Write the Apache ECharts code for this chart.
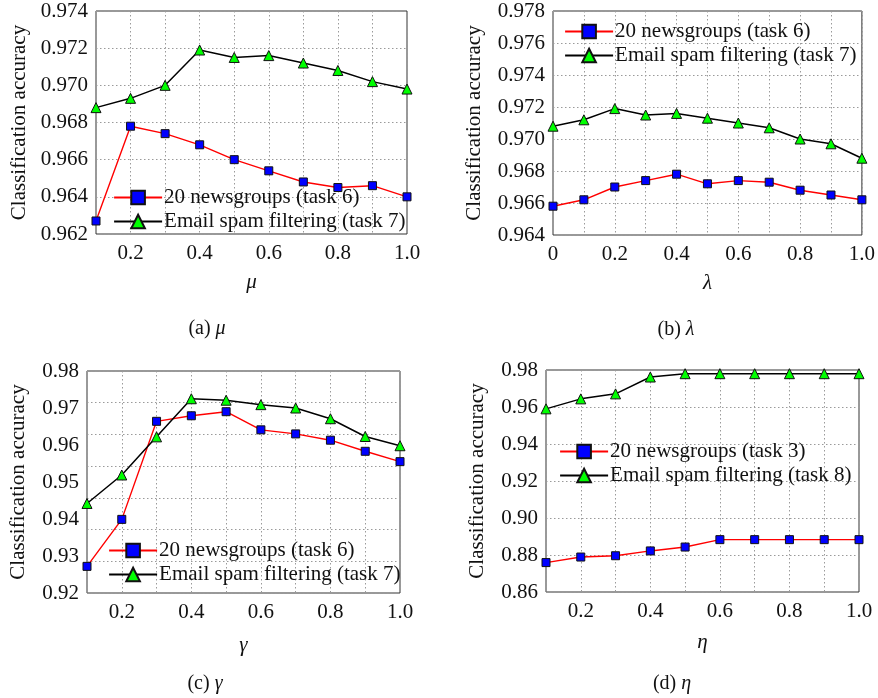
<!DOCTYPE html>
<html>
<head>
<meta charset="utf-8">
<script src="https://cdn.jsdelivr.net/npm/echarts@6/dist/echarts.min.js"></script>
<style>
html,body{margin:0;padding:0;background:#fff;}
#c{width:878px;height:698px;}
</style>
</head>
<body>
<div id="c"></div>
<script>
// ---------- data ----------
const seriesNames = ['20 newsgroups (task 6)', 'Email spam filtering (task 7)'];
const seriesNamesD = ['20 newsgroups (task 3)', 'Email spam filtering (task 8)'];
const yAxisTitle = 'Classification accuracy';

// (a) mu
const xMu = [0.1, 0.2, 0.3, 0.4, 0.5, 0.6, 0.7, 0.8, 0.9, 1.0];
const newsMu = [0.9627, 0.9678, 0.9674, 0.9668, 0.9660, 0.9654, 0.9648, 0.9645, 0.9646, 0.9640];
const spamMu = [0.9688, 0.9693, 0.9700, 0.9719, 0.9715, 0.9716, 0.9712, 0.9708, 0.9702, 0.9698];

// (b) lambda
const xLambda = [0, 0.1, 0.2, 0.3, 0.4, 0.5, 0.6, 0.7, 0.8, 0.9, 1.0];
const newsLambda = [0.9658, 0.9662, 0.9670, 0.9674, 0.9678, 0.9672, 0.9674, 0.9673, 0.9668, 0.9665, 0.9662];
const spamLambda = [0.9708, 0.9712, 0.9719, 0.9715, 0.9716, 0.9713, 0.9710, 0.9707, 0.9700, 0.9697, 0.9688];

// (c) gamma
const xGamma = [0.1, 0.2, 0.3, 0.4, 0.5, 0.6, 0.7, 0.8, 0.9, 1.0];
const newsGamma = [0.9272, 0.9399, 0.9664, 0.9679, 0.9690, 0.9641, 0.9630, 0.9613, 0.9583, 0.9555];
const spamGamma = [0.9442, 0.9519, 0.9622, 0.9725, 0.9721, 0.9709, 0.9700, 0.9671, 0.9623, 0.9598];

// (d) eta
const xEta = [0.1, 0.2, 0.3, 0.4, 0.5, 0.6, 0.7, 0.8, 0.9, 1.0];
const newsEta = [0.8759, 0.8789, 0.8796, 0.8822, 0.8843, 0.8883, 0.8883, 0.8883, 0.8883, 0.8883];
const spamEta = [0.9590, 0.9644, 0.9671, 0.9762, 0.9780, 0.9780, 0.9780, 0.9780, 0.9780, 0.9780];

// axis ranges
const yRanges = [
  {min: 0.962, max: 0.974, interval: 0.002, dec: 3},
  {min: 0.964, max: 0.978, interval: 0.002, dec: 3},
  {min: 0.92, max: 0.98, interval: 0.01, dec: 2},
  {min: 0.86, max: 0.98, interval: 0.02, dec: 2}
];
const xRanges = [
  {min: 0.1, max: 1.0},
  {min: 0, max: 1.0},
  {min: 0.1, max: 1.0},
  {min: 0.1, max: 1.0}
];
const xNames = ['μ', 'λ', 'γ', 'η'];
const captions = [['(a) ', 'μ'], ['(b) ', 'λ'], ['(c) ', 'γ'], ['(d) ', 'η']];

// ---------- layout ----------
const FONT = 'Liberation Serif, DejaVu Serif';
const grids = [
  {left: 96, top: 11, width: 311, height: 223},
  {left: 553, top: 11, width: 312, height: 224},
  {left: 87, top: 371, width: 313, height: 222},
  {left: 546, top: 370, width: 313, height: 222}
];
const yNameGaps = [66, 68, 58, 58];
const xNameGaps = [38, 38, 42, 40];
const legendPos = [
  {left: 113, top: 187},
  {left: 564, top: 21},
  {left: 108, top: 540},
  {left: 559, top: 441}
];
const captionPos = [[207, 329], [676, 330], [205, 684], [672, 684]];

const zip = (xs, ys) => xs.map((x, i) => [x, ys[i]]);
const panels = [
  [zip(xMu, newsMu), zip(xMu, spamMu), seriesNames],
  [zip(xLambda, newsLambda), zip(xLambda, spamLambda), seriesNames],
  [zip(xGamma, newsGamma), zip(xGamma, spamGamma), seriesNames],
  [zip(xEta, newsEta), zip(xEta, spamEta), seriesNamesD]
];

const gridLine = {show: true, lineStyle: {color: '#9a9a9a', type: [1.5, 2.5], width: 1}};

const option = {
  backgroundColor: '#fff',
  animation: false,
  textStyle: {fontFamily: FONT},
  grid: grids.map(g => Object.assign({show: true, borderColor: '#333', borderWidth: 1, backgroundColor: 'transparent', containLabel: false}, g)),
  xAxis: [],
  yAxis: [],
  legend: [],
  series: [],
  graphic: []
};

panels.forEach((p, i) => {
  const xr = xRanges[i], yr = yRanges[i];
  option.xAxis.push({
    type: 'value', gridIndex: i, min: xr.min, max: xr.max, interval: 0.1,
    name: xNames[i], nameLocation: 'middle', nameGap: xNameGaps[i],
    nameTextStyle: {fontFamily: FONT, fontSize: 21, fontStyle: 'italic', color: '#111'},
    axisLine: {show: false}, axisTick: {show: false},
    splitLine: gridLine,
    axisLabel: {
      fontFamily: FONT, fontSize: 21, color: '#111', margin: 9,
      formatter: v => {
        const k = Math.round(v * 10);
        if (k % 2 !== 0) return '';
        if (k === 0) return '0';
        return (k / 10).toFixed(1);
      }
    }
  });
  option.yAxis.push({
    type: 'value', gridIndex: i, min: yr.min, max: yr.max, interval: yr.interval,
    name: yAxisTitle, nameLocation: 'middle', nameGap: yNameGaps[i], nameRotate: 90,
    nameTextStyle: {fontFamily: FONT, fontSize: 21, color: '#111'},
    axisLine: {show: false}, axisTick: {show: false},
    splitLine: i === 2 ? {show: false} : gridLine,
    axisLabel: {fontFamily: FONT, fontSize: 21, color: '#111', margin: 8,
      formatter: v => v.toFixed(yr.dec)}
  });
  const yIdx = option.yAxis.length - 1;
  if (i === 2) {
    // panel (c) has its dotted grid drawn at 7 equal steps, independent of labels
    option.yAxis.push({
      type: 'value', gridIndex: i, min: 0, max: 7, interval: 1, position: 'left',
      axisLine: {show: false}, axisTick: {show: false}, axisLabel: {show: false},
      splitLine: gridLine
    });
  }
  option.series.push({
    type: 'line', name: p[2][0], xAxisIndex: i, yAxisIndex: yIdx, data: p[0],
    symbol: 'rect', symbolSize: 8,
    lineStyle: {color: '#ff0000', width: 1.4},
    itemStyle: {color: '#0000ff', borderColor: '#111', borderWidth: 1},
    z: 3
  });
  option.series.push({
    type: 'line', name: p[2][1], xAxisIndex: i, yAxisIndex: yIdx, data: p[1],
    symbol: 'triangle', symbolSize: 10,
    lineStyle: {color: '#000000', width: 1.5},
    itemStyle: {color: '#00ff00', borderColor: '#111', borderWidth: 1},
    z: 4
  });
  option.legend.push({
    left: legendPos[i].left, top: legendPos[i].top, orient: 'vertical',
    data: p[2], itemWidth: 48, itemHeight: 17, itemGap: 3, padding: 0,
    selectedMode: false,
    lineStyle: {width: 2.2},
    textStyle: {fontFamily: FONT, fontSize: 21, color: '#111', padding: [0, 0, 0, -3]}
  });
  option.graphic.push({
    type: 'text', x: captionPos[i][0], y: captionPos[i][1],
    style: {
      text: captions[i][0] + '{g|' + captions[i][1] + '}',
      font: '20px ' + FONT, fill: '#111', align: 'center', verticalAlign: 'middle',
      rich: {g: {fontFamily: FONT, fontSize: 20, fontStyle: 'italic', fill: '#111'}}
    }
  });
});

const chart = echarts.init(document.getElementById('c'), null, {renderer: 'canvas'});
chart.setOption(option);
</script>
</body>
</html>
